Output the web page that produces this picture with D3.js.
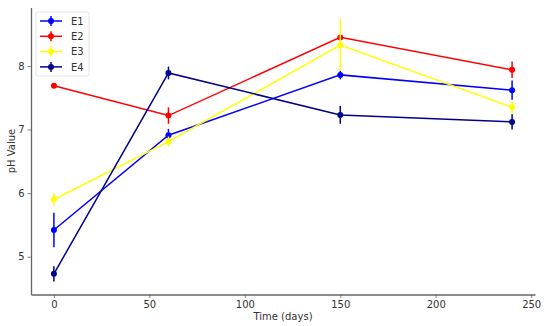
<!DOCTYPE html>
<html>
<head>
<meta charset="utf-8">
<script src="https://cdn.jsdelivr.net/npm/d3@7"></script>
<style>
body{margin:0;background:#fff;}
text{font-family:"DejaVu Sans",sans-serif;}
</style>
</head>
<body>
<div class="canvas"></div>
<script>
const days=[0,60,150,240];
const seriesNames=['E1','E2','E3','E4'];
const colors=['#0000ff','#ff0000','#ffff00','#00008b'];
const e1=[5.42,6.91,7.86,7.62];
const e2=[7.69,7.22,8.45,7.94];
const e3=[5.90,6.81,8.33,7.35];
const e4=[4.73,7.89,7.23,7.12];
const e1Err=[0.27,0.1,0.07,0.15];
const e2Err=[0.03,0.13,0.04,0.13];
const e3Err=[0.1,0.08,0.41,0.1];
const e4Err=[0.12,0.1,0.14,0.12];
const xTicks=[0,50,100,150,200,250];
const yTicks=[5,6,7,8];

const values=[e1,e2,e3,e4];
const errs=[e1Err,e2Err,e3Err,e4Err];

const svg=d3.select('.canvas').append('svg')
.attr('width',550)
.attr('height',326);

const x=d3.scaleLinear().domain([-12,252]).range([31,535]);
const y=d3.scaleLinear().domain([4.405,8.92]).range([294.5,7.5]);

// axes
const xAxis=svg.append('g')
.attr('transform','translate(0,294.5)')
.call(d3.axisBottom(x).tickValues(xTicks).tickSize(3.5).tickPadding(3).tickSizeOuter(0));
const yAxis=svg.append('g')
.attr('transform','translate(31,0)')
.call(d3.axisLeft(y).tickValues(yTicks).tickFormat(d3.format('d')).tickSize(3.5).tickPadding(3).tickSizeOuter(0));

[xAxis,yAxis].forEach(g=>{
  g.select('.domain').attr('stroke','#666').attr('stroke-width',1.3);
  g.selectAll('.tick line').attr('stroke','#666').attr('stroke-width',0.8);
  g.selectAll('.tick text').attr('fill','#333').style('font-size','10px');
});

svg.append('text')
.attr('x',283).attr('y',320)
.attr('text-anchor','middle')
.attr('fill','#333')
.style('font-size','10px')
.text('Time (days)');

svg.append('text')
.attr('transform','translate(15,151) rotate(-90)')
.attr('text-anchor','middle')
.attr('fill','#333')
.style('font-size','10px')
.text('pH Value');

const line=d3.line().x((d,i)=>x(days[i])).y(d=>y(d));

values.forEach((vals,s)=>{
  const g=svg.append('g');
  g.append('path')
  .attr('d',line(vals))
  .attr('fill','none')
  .attr('stroke',colors[s])
  .attr('stroke-width',1.5);

  g.selectAll('line.err')
  .data(vals)
  .enter().append('line')
  .attr('class','err')
  .attr('x1',(d,i)=>x(days[i]))
  .attr('x2',(d,i)=>x(days[i]))
  .attr('y1',(d,i)=>y(d-errs[s][i]))
  .attr('y2',(d,i)=>y(d+errs[s][i]))
  .attr('stroke',colors[s])
  .attr('stroke-width',1.5);

  g.selectAll('circle')
  .data(vals)
  .enter().append('circle')
  .attr('cx',(d,i)=>x(days[i]))
  .attr('cy',d=>y(d))
  .attr('r',3)
  .attr('fill',colors[s]);
});

// legend
const legend=svg.append('g');
legend.append('rect')
.attr('x',36).attr('y',12)
.attr('width',53).attr('height',64)
.attr('rx',2)
.attr('fill','#fff')
.attr('fill-opacity',0.8)
.attr('stroke','#ddd')
.attr('stroke-width',0.8);

seriesNames.forEach((name,i)=>{
  const ly=21+i*15.3;
  legend.append('line')
  .attr('x1',40).attr('x2',62)
  .attr('y1',ly).attr('y2',ly)
  .attr('stroke',colors[i]).attr('stroke-width',1.5);
  legend.append('line')
  .attr('x1',51).attr('x2',51)
  .attr('y1',ly-5).attr('y2',ly+5)
  .attr('stroke',colors[i]).attr('stroke-width',1.5);
  legend.append('circle')
  .attr('cx',51).attr('cy',ly).attr('r',3)
  .attr('fill',colors[i]);
  legend.append('text')
  .attr('x',71).attr('y',ly+3.6)
  .attr('fill','#333')
  .style('font-size','10px')
  .text(name);
});
</script>
</body>
</html>
